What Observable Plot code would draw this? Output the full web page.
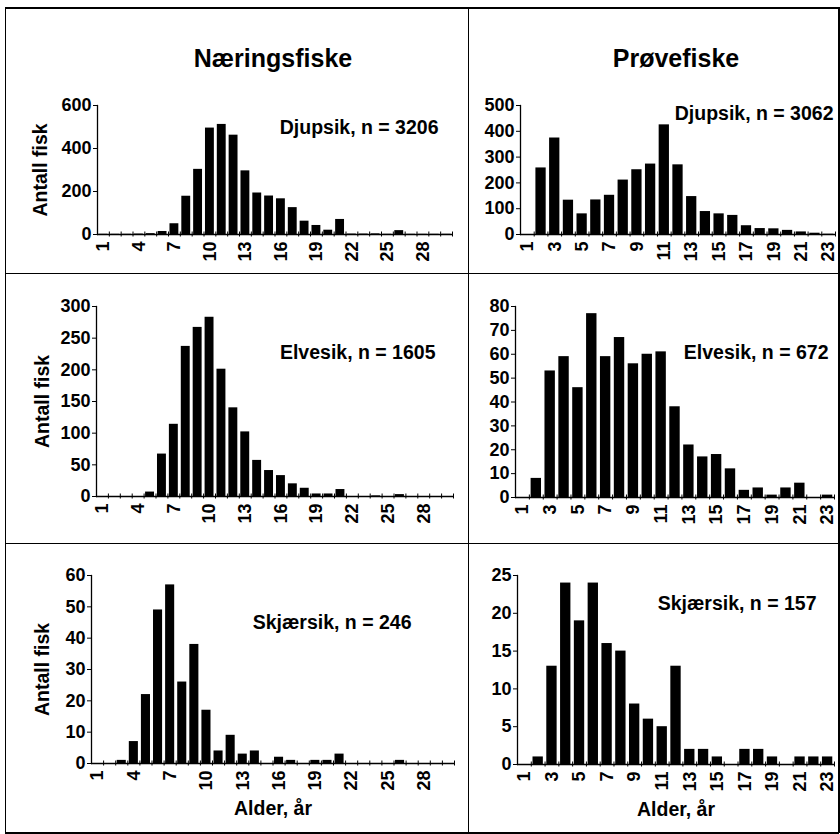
<!DOCTYPE html>
<html><head><meta charset="utf-8">
<script src="https://cdn.jsdelivr.net/npm/d3@7"></script>
<script src="https://cdn.jsdelivr.net/npm/@observablehq/plot@0.6"></script>
<style>
body{margin:0;background:#fff;}
#wrap{position:relative;width:840px;height:834px;font-family:"Liberation Sans",Arial,Helvetica,sans-serif;color:#000;overflow:hidden;}
.ln{position:absolute;background:#000;}
.title{position:absolute;font-weight:bold;font-size:25px;transform:translate(-50%,-50%);white-space:nowrap;}
.cell{position:absolute;}
.cell svg{overflow:visible;}
</style></head><body>
<div id="wrap"></div>
<script>
// Age categories
const agesNaering = [1,2,3,4,5,6,7,8,9,10,11,12,13,14,15,16,17,18,19,20,21,22,23,24,25,26,27,28,29,30];
const agesProve = [1,2,3,4,5,6,7,8,9,10,11,12,13,14,15,16,17,18,19,20,21,22,23];
const tickLabelsNaering = [1,4,7,10,13,16,19,22,25,28];
const tickLabelsProve = [1,3,5,7,9,11,13,15,17,19,21,23];

// Counts (Antall fisk) per age
const naeringDjupsik = [1,1,1,2,4,14,50,178,303,495,512,462,296,193,179,166,125,62,42,20,70,2,2,3,1,18,1,1,1,1];
const naeringElvesik = [0,0,0,0,7,67,114,237,267,283,201,140,102,57,41,33,20,13,4,4,11,0,0,1,0,3,0,0,0,0];
const naeringSkjaersik = [0,0,1,7,22,49,57,26,38,17,4,9,3,4,0,2,1,0,1,1,3,0,0,0,0,1,0,0,0,0];
const proveDjupsik = [0,258,374,133,80,134,152,211,251,273,425,270,147,89,80,74,34,23,22,16,10,5,1];
const proveElvesik = [0,8,53,59,46,77,59,67,56,60,61,38,22,17,18,12,3,4,1,4,6,0,1];
const proveSkjaersik = [0,1,13,24,19,24,16,15,8,6,5,13,2,2,1,0,2,2,1,0,1,1,1];

// Y ticks
const yTicksND = [0,200,400,600];
const yTicksPD = [0,100,200,300,400,500];
const yTicksNE = [0,50,100,150,200,250,300];
const yTicksPE = [0,10,20,30,40,50,60,70,80];
const yTicksNS = [0,10,20,30,40,50,60];
const yTicksPS = [0,5,10,15,20,25];

const columnTitles = ["Næringsfiske", "Prøvefiske"];
const yLabel = "Antall fisk";
const xLabel = "Alder, år";

const FONT = '"Liberation Sans", Arial, Helvetica, sans-serif';
const wrap = document.getElementById("wrap");

function line(l, t, w, h) {
  const d = document.createElement("div");
  d.className = "ln";
  Object.assign(d.style, {left: l + "px", top: t + "px", width: w + "px", height: h + "px"});
  wrap.appendChild(d);
}

function panel(o) {
  const rows = o.ages.map((a, i) => ({age: a, n: o.data[i]}));
  const W = o.width - o.mL - o.mR;
  const half = W / o.ages.length / 2;
  const marks = [
    Plot.barY(rows, {x: "age", y: "n", fill: "#000"}),
    Plot.ruleY([0], {stroke: "#000", strokeWidth: 1.3}),
    Plot.frame({anchor: "left", stroke: "#000", strokeWidth: 1.3}),
    Plot.axisY({ticks: o.yTicks, tickSize: 4, tickPadding: 2, label: null, stroke: "#000", fill: "#000", fontSize: 18, fontWeight: "bold"}),
    Plot.axisX({ticks: o.ages, tickSize: 5, dx: half, dy: -2.5, tickFormat: () => "", label: null, stroke: "#000"}),
    Plot.axisX({ticks: o.tickLabels, tickSize: 0, tickPadding: 7, tickRotate: -90, label: null, fill: "#000", fontSize: 18, fontWeight: "bold"}),
    Plot.text([o.label], {text: d => d, frameAnchor: "top-right", textAnchor: "end", lineAnchor: "middle", dx: o.labDx, dy: o.labDy, fontSize: 19.5, fontWeight: "bold", fill: "#000"})
  ];
  if (o.ylabel) marks.push(Plot.text([o.ylabel], {text: d => d, frameAnchor: "left", rotate: -90, textAnchor: "middle", lineAnchor: "middle", dx: o.ylDx, fontSize: 19.5, fontWeight: "bold", fill: "#000"}));
  if (o.xlabel) marks.push(Plot.text([o.xlabel], {text: d => d, frameAnchor: "bottom", textAnchor: "middle", lineAnchor: "middle", dy: 45, fontSize: 19.5, fontWeight: "bold", fill: "#000"}));
  const chart = Plot.plot({
    width: o.width, height: o.height,
    marginLeft: o.mL, marginRight: o.mR, marginTop: o.mT, marginBottom: o.mB,
    style: {fontFamily: FONT, fontSize: "18px", fontWeight: "bold", color: "#000", background: "transparent", overflow: "visible"},
    x: {type: "band", domain: o.ages, paddingInner: 0.25, paddingOuter: 0.125, round: false},
    y: {domain: [o.yTicks[0], o.yTicks[o.yTicks.length - 1]]},
    marks
  });
  const div = document.createElement("div");
  div.className = "cell";
  div.style.left = o.left + "px";
  div.style.top = o.top + "px";
  div.appendChild(chart);
  wrap.appendChild(div);
}

// Panels
panel({data: naeringDjupsik, ages: agesNaering, tickLabels: tickLabelsNaering, yTicks: yTicksND, label: "Djupsik, n = 3206",
  left: 5, top: 8, width: 463, height: 265, mL: 92, mR: 16, mT: 97, mB: 39, labDx: -14, labDy: 22, ylabel: yLabel, ylDx: -57});
panel({data: proveDjupsik, ages: agesProve, tickLabels: tickLabelsProve, yTicks: yTicksPD, label: "Djupsik, n = 3062",
  left: 468, top: 8, width: 371, height: 265, mL: 52, mR: 4, mT: 97, mB: 39, labDx: -2, labDy: 8});
panel({data: naeringElvesik, ages: agesNaering, tickLabels: tickLabelsNaering, yTicks: yTicksNE, label: "Elvesik, n = 1605",
  left: 5, top: 273, width: 463, height: 270, mL: 91, mR: 15, mT: 33, mB: 47, labDx: -18, labDy: 46, ylabel: yLabel, ylDx: -54});
panel({data: proveElvesik, ages: agesProve, tickLabels: tickLabelsProve, yTicks: yTicksPE, label: "Elvesik, n = 672",
  left: 468, top: 273, width: 371, height: 270, mL: 47, mR: 5, mT: 33, mB: 46, labDx: -6, labDy: 46});
panel({data: naeringSkjaersik, ages: agesNaering, tickLabels: tickLabelsNaering, yTicks: yTicksNS, label: "Skjærsik, n = 246",
  left: 5, top: 543, width: 463, height: 290, mL: 86, mR: 14, mT: 32, mB: 70, labDx: -43, labDy: 47, ylabel: yLabel, ylDx: -49, xlabel: xLabel});
panel({data: proveSkjaersik, ages: agesProve, tickLabels: tickLabelsProve, yTicks: yTicksPS, label: "Skjærsik, n = 157",
  left: 468, top: 543, width: 371, height: 290, mL: 49, mR: 5, mT: 32, mB: 69, labDx: -18, labDy: 28, xlabel: xLabel});

// Column titles
[[273, columnTitles[0]], [676, columnTitles[1]]].forEach(([cx, t]) => {
  const d = document.createElement("div");
  d.className = "title";
  d.textContent = t;
  d.style.left = cx + "px";
  d.style.top = "58px";
  wrap.appendChild(d);
});

// Borders and dividers
line(5, 7, 834, 2);
line(5, 832, 834, 1.5);
line(4.5, 7, 1.5, 826);
line(838, 7, 1.5, 826);
line(467.5, 7, 1.2, 826);
line(5, 272.5, 834, 1.2);
line(5, 542.5, 834, 1.2);
</script>
</body></html>
